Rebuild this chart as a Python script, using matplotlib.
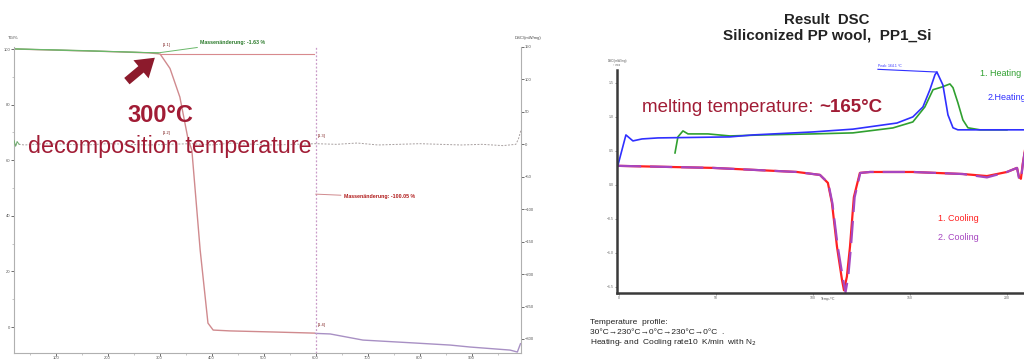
import numpy as np
import matplotlib.pyplot as plt

plt.rcParams['font.family'] = ['Liberation Sans', 'DejaVu Sans']

W, H = 1024, 359

# pixel -> figure fraction
def fx(x):
    return x / W

def fy(y):
    return 1 - y / H

# ---------------- TGA data (left) ----------------
tg_temp = [20, 100, 200, 280, 301, 320, 339, 355, 362, 378, 393, 403, 435, 520, 598]
tg_mass = [100.0, 99.6, 99.1, 98.6, 98.2, 93.0, 82.7, 67.3, 63.7, 27.7, 1.4, -1.1, -1.4, -1.8, -2.2]
tg2_temp = [600, 628, 691, 795, 859, 897, 974, 988, 994]
tg2_mass = [-2.3, -2.5, -4.7, -5.8, -6.5, -7.2, -8.3, -9.0, -6.0]

dsc_temp = [20, 23, 26, 30, 40, 80, 120, 160, 200, 240, 280, 320, 360, 400, 440, 480,
            520, 560, 600, 640, 680, 720, 760, 800, 840, 880, 920, 960, 985, 990, 995]
dsc_val = [6, -3, 4, 0, -1, 1, 0, -1, 1, 0, -1, 0, 1, -1, 2, 0,
           -1, 0, 1, 0, 2, -1, 0, 1, 0, -1, 0, -2, 0, 8, 22]

tg_ticks = [0, 20, 40, 60, 80, 100]
dsc_ticks = [150, 100, 50, 0, -50, -100, -150, -200, -250, -300]
temp_ticks = [100, 200, 300, 400, 500, 600, 700, 800, 900]

# ---------------- DSC data (right) ----------------
heat2_temp = [-0.7, 3.6, 7.2, 11.9, 20.1, 57.2, 69.1, 100, 120.6, 143.3, 151.5, 156.7,
              160.3, 162.9, 163.9, 167.0, 169.6, 172.2, 174.7, 208.8]
heat2_val = [0.27, 0.735, 0.647, 0.676, 0.691, 0.706, 0.735, 0.779, 0.82, 0.91, 1.0, 1.147,
             1.40, 1.62, 1.66, 1.47, 1.03, 0.84, 0.81, 0.81]

heat1_temp = [28.9, 30.4, 33.0, 35.6, 45.9, 57.2, 74.2, 100, 120.6, 141.2, 151.5, 157.7,
              161.9, 166.5, 170.6, 172.2, 174.7, 177.3, 179.9, 186.1, 200]
heat1_val = [0.47, 0.706, 0.794, 0.75, 0.75, 0.72, 0.735, 0.75, 0.765, 0.838, 0.926, 1.147,
             1.40, 1.44, 1.485, 1.43, 1.21, 0.956, 0.84, 0.81, 0.81]

cool1_temp = [0, 48.5, 91.8, 103.6, 107.7, 109.8, 112.4, 115.0, 116.0, 117.5, 119.1, 121.1,
              124.2, 129.4, 151.5, 177.3, 189.7, 200, 205.2, 206.2, 207.2, 208.2, 209.3]
cool1_val = [0.28, 0.25, 0.19, 0.147, 0.03, -0.265, -0.91, -1.40, -1.55, -1.35, -0.91, -0.18,
             0.176, 0.19, 0.19, 0.16, 0.13, 0.19, 0.25, 0.12, 0.09, 0.32, 0.51]
cool2_temp = [0, 48.5, 91.8, 103.6, 107.9, 110.0, 112.8, 115.6, 116.8, 118.2, 119.6, 121.5,
              124.4, 129.4, 151.5, 177.3, 189.7, 200, 205.2, 206.2, 207.2, 208.2, 209.3]
cool2_val = [0.28, 0.25, 0.19, 0.147, 0.03, -0.265, -0.91, -1.40, -1.58, -1.35, -0.91, -0.18,
             0.176, 0.19, 0.19, 0.16, 0.11, 0.19, 0.25, 0.10, 0.07, 0.30, 0.51]

dark_red = '#a11c35'

fig = plt.figure(figsize=(W / 100, H / 100), dpi=100)

# ================= left panel: TGA =================
ax = fig.add_axes([fx(14), fy(353), fx(521) - fx(14), fy(47) - fy(353)])
ax.set_xlim(20, 995)
ax.set_ylim(-9.35, 100.72)
ax2 = ax.twinx()
ax2.set_ylim(-321.6, 150)

for a in (ax, ax2):
    a.spines['top'].set_visible(False)
    for s in ('left', 'right', 'bottom'):
        a.spines[s].set_color('#b0b0b0')
        a.spines[s].set_linewidth(0.8)
ax.spines['right'].set_visible(False)
ax2.spines['left'].set_visible(False)
ax2.spines['bottom'].set_visible(False)

ax.set_xticks(temp_ticks)
ax.set_xticklabels([str(t) for t in temp_ticks])
ax.set_xticks(np.arange(50, 1000, 50), minor=True)
ax.set_yticks(tg_ticks)
ax.set_yticks(np.arange(10, 100, 20), minor=True)
ax2.set_yticks(dsc_ticks)
for a in (ax, ax2):
    a.tick_params(labelsize=3, colors='#555555', length=2, width=0.6, pad=0.5)
    a.tick_params(which='minor', length=1.2, width=0.4, colors='#999999')

# DSC signal
ax2.plot(dsc_temp, dsc_val, color='#a8a0a0', lw=0.7, ls=(0, (2, 1.5)))
ax2.plot(dsc_temp[:4], dsc_val[:4], color='#70b070', lw=0.7)

# TG curve
ax.plot(tg_temp, tg_mass, color='#d08a8e', lw=1.0)
ax.plot(tg2_temp, tg2_mass, color='#a890c4', lw=1.0)

# segment boundary
ax.axvline(600, color='#c99ac8', lw=0.9, ls=(0, (1.5, 1.5)))

# step evaluation lines
ax.plot([20, 297], [100.0, 98.6], color='#6ab86a', lw=0.8)
ax.plot([20, 150, 297], [100.1, 99.5, 98.6], color='#6ab86a', lw=0.6)
ax.plot([301, 596], [98.2, 98.2], color='#d88a8e', lw=0.8)

ax.annotate('Massenänderung: -1.63 %', xy=(297, 98.6), xytext=(378, 102.3),
            textcoords='data', annotation_clip=False, fontsize=3.8, fontweight='bold',
            color='#2a7a2a', va='center', ha='left',
            arrowprops=dict(arrowstyle='-', color='#6ab86a', lw=0.7, shrinkA=0, shrinkB=0))
ax.annotate('Massenänderung: -100.05 %', xy=(600, 47.8), xytext=(654, 46.8),
            textcoords='data', fontsize=3.8, fontweight='bold',
            color='#b01a1a', va='center', ha='left',
            arrowprops=dict(arrowstyle='-', color='#d08a8e', lw=0.7, shrinkA=0, shrinkB=0))

for lbl, x, y in [('[1.1]', 163, 45), ('[1.2]', 163, 133), ('[1.3]', 318, 136), ('[1.4]', 318, 325)]:
    fig.text(fx(x), fy(y), lbl, fontsize=2.8, color='#7a1a1a', ha='left', va='center')

fig.text(fx(8), fy(38), 'TG/%', fontsize=3, color='#444444', ha='left', va='center')
fig.text(fx(528), fy(38), 'DSC/(mW/mg)', fontsize=3, color='#444444', ha='center', va='center')

# big annotation
ax.annotate('', xy=(295, 97.5), xytext=(233, 87.8),
            arrowprops=dict(arrowstyle='simple,head_width=0.85,head_length=0.65,tail_width=0.3',
                            mutation_scale=20, color='#8c1a2c', lw=0))
fig.text(fx(160), fy(115), '300°C', fontsize=17, fontweight='bold', color=dark_red,
         ha='center', va='center')
fig.text(fx(170), fy(147), 'decomposition temperature', fontsize=16.8, color=dark_red,
         ha='center', va='center')

# ================= right panel: DSC =================
bx = fig.add_axes([fx(617), fy(293), 1 - fx(617), fy(70) - fy(293)])
bx.set_xlim(-1, 208.8)
bx.set_ylim(-1.59, 1.69)
bx.spines['top'].set_visible(False)
bx.spines['right'].set_visible(False)
for s in ('left', 'bottom'):
    bx.spines[s].set_color('#3a3a3a')
    bx.spines[s].set_linewidth(1.8)
bx.set_xticks([0, 50, 100, 150, 200])
bx.set_yticks([1.5, 1.0, 0.5, 0, -0.5, -1.0, -1.5])
bx.tick_params(labelsize=2.5, colors='#666666', length=1.5, width=0.5, pad=1)

bx.plot(cool1_temp, cool1_val, color='#ff2020', lw=1.6)
bx.plot(cool2_temp, cool2_val, color='#a646c0', lw=1.6, ls=(0, (10, 4)))
bx.plot(heat1_temp, heat1_val, color='#30a030', lw=1.2)
bx.plot(heat2_temp, heat2_val, color='#3030ff', lw=1.2)

# peak marker of 2. heating
bx.plot([133.5, 163.9], [1.70, 1.66], color='#3030ff', lw=0.8, clip_on=False)
fig.text(fx(878), fy(66), 'Peak: 164.1 °C', fontsize=2.5, color='#3030ff', ha='left', va='center')

fig.text(fx(617), fy(63), 'DSC/(mW/mg)\n↑ exo', fontsize=2.2, color='#555555', ha='center', va='center')
fig.text(fx(828), fy(299), 'Temp./°C', fontsize=2.5, color='#555555', ha='center', va='center')

fig.text(fx(980), fy(73), '1. Heating', fontsize=6.5, color='#30a030', ha='left', va='center')
fig.text(fx(988), fy(98), '2.Heating', fontsize=6.5, color='#3030ff', ha='left', va='center')
fig.text(fx(938), fy(218), '1. Cooling', fontsize=6.5, color='#ff2020', ha='left', va='center')
fig.text(fx(938), fy(237), '2. Cooling', fontsize=6.5, color='#a646c0', ha='left', va='center')

fig.text(fx(827), fy(20), 'Result  DSC', fontsize=10.8, fontweight='bold', color='#222222',
         ha='center', va='center')
fig.text(fx(827), fy(35), 'Siliconized PP wool,  PP1_Si', fontsize=11, fontweight='bold',
         color='#222222', ha='center', va='center')

# "melting temperature: ~165°C" with bold value placed right after the plain part
t1 = fig.text(fx(642), fy(108), 'melting temperature:', fontsize=13.5, color=dark_red,
              ha='left', va='center')
renderer = fig.canvas.get_renderer()
bb = t1.get_window_extent(renderer=renderer)
fig.text(bb.x1 / W + 6 / W, fy(108), '~165°C', fontsize=13.5, fontweight='bold', color=dark_red,
         ha='left', va='center')

fig.text(fx(590), fy(323), 'Temperature  profile:', fontsize=6, color='#222222', ha='left', va='center')
fig.text(fx(590), fy(332), '30°C→230°C→0°C→230°C→0°C  .', fontsize=6, color='#222222',
         ha='left', va='center')
fig.text(fx(590), fy(342), 'Heating- and  Cooling rate10  K/min  with N$_2$', fontsize=6,
         color='#222222', ha='left', va='center')

fig.savefig('out.png', dpi=100)
